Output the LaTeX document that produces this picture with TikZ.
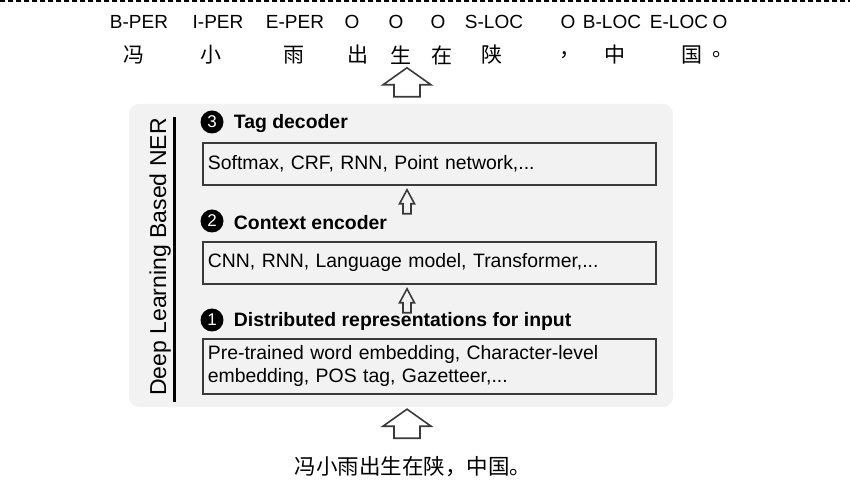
\documentclass[tikz,border=0pt]{standalone}
\usepackage{fontspec}
\setmainfont{Liberation Sans}
\newfontfamily\cjk{Noto Sans CJK SC}
\usetikzlibrary{positioning,calc}
\definecolor{panelgray}{HTML}{F2F2F2}
\definecolor{edgegray}{HTML}{3A3A3A}

\begin{document}
\begin{tikzpicture}[
			x=1pt, y=1pt,
			panel node/.style={fill=panelgray, rounded corners=10pt, minimum width=544pt, minimum height=303pt},
			box node/.style={draw=edgegray, line width=1.8pt, anchor=north west, text width=443pt, inner xsep=5pt, inner ysep=0pt, align=left, font=\fontsize{19.4}{23}\selectfont},
			num node/.style={circle, fill=black, text=white, inner sep=0pt, minimum size=23pt, font=\fontsize{17}{17}\selectfont},
			head node/.style={inner sep=0pt, font=\fontsize{19.4}{23}\selectfont\bfseries},
			tag node/.style={inner sep=0pt, font=\fontsize{19}{19}\selectfont},
			char node/.style={inner sep=0pt, font=\cjk\fontsize{21}{21}\selectfont},
			arrow line/.style={draw=edgegray, line width=1.6pt}
			]
			\newcommand{\hollowup}[5]{
				\draw[arrow line] let \p1=(#1), \p2=(#2) in
					(\p2) -- (\x2+#3,\y2-#5) -- (\x2+#4,\y2-#5) -- (\x2+#4,\y1)
					-- (\x2-#4,\y1) -- (\x2-#4,\y2-#5) -- (\x2-#3,\y2-#5) -- cycle;
			}
			\useasboundingbox (0,0) rectangle (850,503);
			\draw[line width=1.5pt, dash pattern=on 5pt off 3pt] (0,502) -- (850,502);
			
			% tags and characters
			\foreach \tg/\x [count=\i] in {B-PER/139, I-PER/218, E-PER/295, O/352, O/396, O/438, S-LOC/494, O/568, B-LOC/612, E-LOC/679, O/720}
				\node[tag node] (Tag\i) at (\x,481) {\tg};
			\foreach \ch/\x [count=\i] in {冯/134, 小/211, 雨/294, 出/358, 生/401, 在/442, 陕/492, ，/570, 中/615, 国/692, 。/723}
				\node[char node] (Char\i) at (\x,448) {\ch};
			
			\node[panel node] (Panel) at (401,247.5) {};
			\coordinate (Axis) at (407,0);
			\node[rotate=90, anchor=base, font=\fontsize{23}{23}\selectfont] (NerLabel) at (166,246) {Deep Learning Based NER};
			\draw[line width=3pt] (174,101) -- (174,386);
			
			\node[box node, minimum height=42pt] (DecBox) at (202,361) {Softmax, CRF, RNN, Point network,...};
			\node[num node] (DecNum) at ($(DecBox.north west)+(10,20)$) {3};
			\node[head node, right=10pt of DecNum, yshift=-2pt] (DecHead) {Tag decoder};
			
			\node[box node, minimum height=42pt] (EncBox) at (202,262) {CNN, RNN, Language model, Transformer,...};
			\node[num node] (EncNum) at ($(EncBox.north west)+(10,20)$) {2};
			\node[head node, right=10pt of EncNum, yshift=-2pt] (EncHead) {Context encoder};
			
			\node[box node, minimum height=55pt] (RepBox) at (202,165) {Pre-trained word embedding, Character-level\\embedding, POS tag, Gazetteer,...};
			\node[num node] (RepNum) at ($(RepBox.north west)+(10,18)$) {1};
			\node[head node, right=10pt of RepNum, yshift=-1pt] (RepHead) {Distributed representations for input};
			
			\hollowup{$(Axis |- DecBox.south)+(0,-28)$}{$(Axis |- DecBox.south)+(0,-4)$}{7.5}{4}{14}
			\hollowup{$(Axis |- EncBox.south)+(0,-28)$}{$(Axis |- EncBox.south)+(0,-4)$}{7.5}{4}{14}
			\hollowup{$(Axis |- Panel.north)+(0,7)$}{$(Axis |- Panel.north)+(0,36)$}{24}{13}{17}
			\hollowup{$(Axis |- Panel.south)+(0,-31)$}{$(Axis |- Panel.south)+(0,-2)$}{24}{13}{17}
			
			\node[char node, font=\cjk\fontsize{21.5}{21.5}\selectfont] (Sentence) at (413,36) {冯小雨出生在陕，中国。};
		\end{tikzpicture}
\end{document}
